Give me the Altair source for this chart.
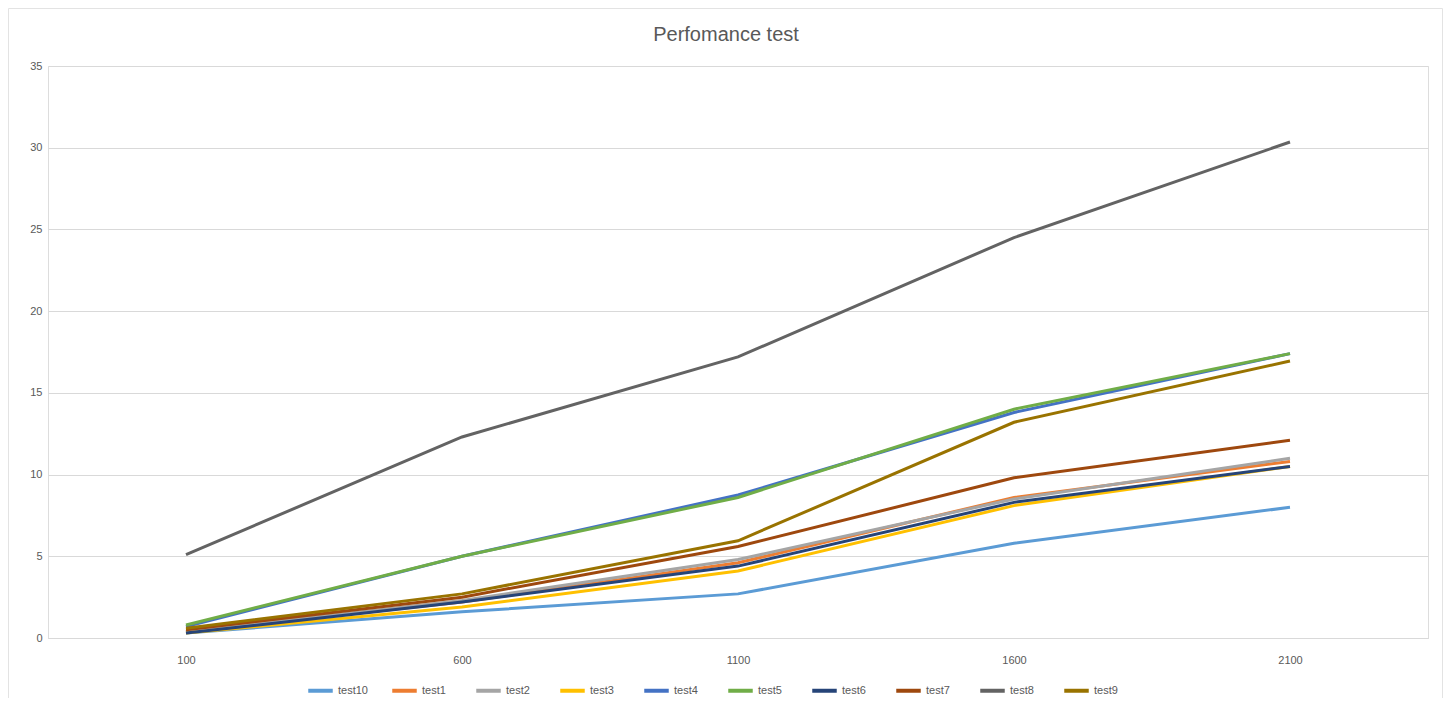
import altair as alt
import pandas as pd

x_cats = ["100", "600", "1100", "1600", "2100"]
series = ["test10", "test1", "test2", "test3", "test4", "test5", "test6", "test7", "test8", "test9"]
colors = ["#5B9BD5", "#ED7D31", "#A5A5A5", "#FFC000", "#4472C4", "#70AD47", "#264478", "#9E480E", "#636363", "#997300"]
title_text = "Perfomance test"

test10 = [0.3, 1.6, 2.7, 5.8, 8.0]
test1 = [0.4, 2.2, 4.6, 8.6, 10.8]
test2 = [0.4, 2.3, 4.8, 8.5, 11.0]
test3 = [0.3, 1.9, 4.1, 8.1, 10.5]
test4 = [0.7, 5.0, 8.75, 13.8, 17.4]
test5 = [0.8, 5.0, 8.6, 14.0, 17.4]
test6 = [0.3, 2.2, 4.4, 8.3, 10.5]
test7 = [0.5, 2.5, 5.6, 9.8, 12.1]
test8 = [5.1, 12.3, 17.2, 24.5, 30.35]
test9 = [0.6, 2.7, 5.95, 13.2, 16.95]

values = [test10, test1, test2, test3, test4, test5, test6, test7, test8, test9]
rows = []
for name, vals in zip(series, values):
    for xc, v in zip(x_cats, vals):
        rows.append({"x": xc, "value": v, "series": name})
df = pd.DataFrame(rows)

base_font = "Liberation Sans"

lines = alt.Chart(df).mark_line(strokeWidth=3, interpolate="linear").encode(
    x=alt.X("x:N", sort=x_cats, title=None,
            scale=alt.Scale(type="point", padding=0.5),
            axis=alt.Axis(labelAngle=0, ticks=False, grid=False, domainColor="#D9D9D9",
                          labelColor="#595959", labelFontSize=11, labelPadding=16, labelFont=base_font)),
    y=alt.Y("value:Q", title=None,
            scale=alt.Scale(domain=[0, 35], nice=False),
            axis=alt.Axis(values=[0, 5, 10, 15, 20, 25, 30, 35], ticks=False, domain=False,
                          gridColor="#D9D9D9", labelColor="#595959", labelFontSize=11,
                          labelPadding=6, labelFont=base_font)),
    color=alt.Color("series:N", sort=series,
                    scale=alt.Scale(domain=series, range=colors),
                    legend=alt.Legend(orient="none", legendX=258, legendY=610,
                                      direction="horizontal", columns=10, title=None,
                                      symbolType="stroke", symbolStrokeWidth=4, symbolSize=600,
                                      labelColor="#595959", labelFontSize=11, labelFont=base_font,
                                      labelOffset=3, gridAlign="all", columnPadding=16)),
    order=alt.Order("series:N"),
)

frame = alt.Chart(pd.DataFrame({"k": [0]})).mark_rect(
    fill="transparent", stroke="#E3E3E3", strokeWidth=1
).encode(
    x=alt.value(-39.5), x2=alt.value(1394.5), y=alt.value(-57.5), y2=alt.value(720)
)

title = alt.Chart(pd.DataFrame({"t": [title_text]})).mark_text(
    font=base_font, fontSize=20, color="#595959", align="center", baseline="middle"
).encode(
    text="t:N", x=alt.value(678), y=alt.value(-31)
)

chart = alt.layer(lines, frame, title).properties(
    width=1380,
    height=572,
    padding={"left": 40, "top": 58, "right": 15, "bottom": 60},
    autosize=alt.AutoSizeParams(type="none"),
).configure_view(stroke=None).configure(background="white")

chart.save("out.html", embed_options={"renderer": "svg", "actions": False})
